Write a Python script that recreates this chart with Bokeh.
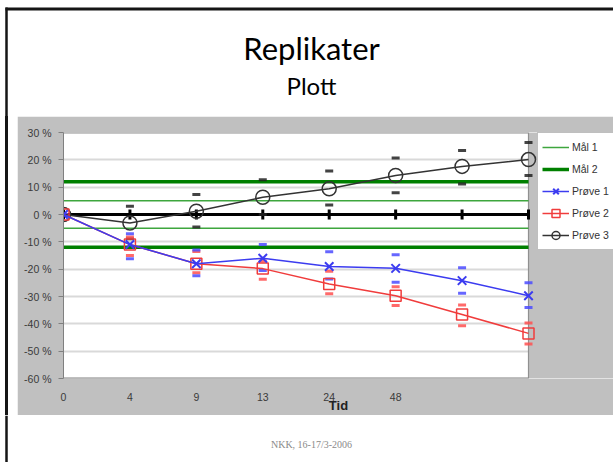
from bokeh.plotting import figure
from bokeh.layouts import column, row
from bokeh.models import Range1d, FixedTicker, Legend, LegendItem, Div
from bokeh.core.properties import value
from bokeh.embed import file_html
from bokeh.resources import INLINE

# ---------------- data ----------------
tid_labels = ["0", "4", "9", "13", "24", "48", "", ""]
y_ticks = [30, 20, 10, 0, -10, -20, -30, -40, -50, -60]

maal1 = [5, -5]
maal2 = [12, -12]
null_line = [0, 0, 0, 0, 0, 0, 0, 0]

prove1 = [0, -11, -18, -16, -19, -19.7, -24.2, -29.7]
prove1_hi = [0, -7, -13, -11, -13.6, -14.7, -19.5, -25]
prove1_lo = [0, -16.2, -22.4, -20.5, -23.6, -24.8, -28.8, -34]

prove2 = [0, -11, -18, -19.8, -25.4, -29.7, -36.6, -43.5]
prove2_hi = [0, -8.2, -13.5, -17, -20.8, -26.4, -33.1, -39.7]
prove2_lo = [0, -15, -21.3, -23.7, -29, -33.3, -40.7, -47.4]

prove3 = [0, -3.1, 1.2, 6.3, 9.4, 14.3, 17.6, 20.1]
prove3_hi = [0, 3, 7.3, 12.7, 15.9, 20.7, 23.4, 26.3]
prove3_lo = [0, -8.9, -4.6, 0, 3.5, 8, 11.2, 14.3]

xs = list(range(len(tid_labels)))
y_top, y_bot = y_ticks[0], y_ticks[-1]

BORDER = "#151515"
FONT = "Liberation Sans"
GRAY = "#c0c0c0"
W = 613

# ---------------- top (slide title) ----------------
top = figure(width=W, height=116, x_range=Range1d(0, W), y_range=Range1d(116, 0),
             output_backend="svg", toolbar_location=None, min_border=0,
             outline_line_color=None, border_fill_color="white")
top.axis.visible = False
top.grid.visible = False
top.line(x=[5, W], y=[8.5, 8.5], line_color=BORDER, line_width=3)
top.line(x=[6, 6], y=[7, 116], line_color=BORDER, line_width=2.5)
top.text(x=[311], y=[47], text=["Replikater"], text_font=value("Lato"),
         text_font_size="31px", text_align="center", text_baseline="middle", text_color="black")
top.text(x=[311], y=[85], text=["Plott"], text_font=value("Lato"),
         text_font_size="24px", text_align="center", text_baseline="middle", text_color="black")

# ---------------- left spacer (slide border) ----------------
spacer = Div(text='<div style="position:absolute;left:5px;top:0px;width:2.5px;height:299px;'
                  'background:%s;"></div>' % BORDER,
             width=17, height=299, margin=0,
             styles={"background-color": "white", "position": "relative", "padding": "0px"})

# ---------------- chart ----------------
CH_W, CH_H = 596, 299
MB_L, MB_T, MB_B = 46, 16, 37
plot_px = 465                       # width of the white plot area in pixels
frame_px = CH_W - MB_L
x_max = xs[-1] * frame_px / plot_px  # frame extends over the grey legend strip

p = figure(width=CH_W, height=CH_H, x_range=Range1d(xs[0], x_max), y_range=Range1d(y_bot, y_top),
           output_backend="svg", toolbar_location=None,
           min_border_left=MB_L, min_border_right=0, min_border_top=MB_T, min_border_bottom=MB_B,
           border_fill_color=GRAY, background_fill_color="white",
           outline_line_color=None)

p.xgrid.visible = False
p.ygrid.grid_line_color = "#d9d9d9"
p.ygrid.grid_line_width = 2
p.ygrid.ticker = FixedTicker(ticks=y_ticks)

p.yaxis.ticker = FixedTicker(ticks=y_ticks)
p.yaxis.major_label_overrides = {v: f"{v} %" for v in y_ticks}
p.yaxis.major_tick_out = 5
p.yaxis.major_tick_in = 0
p.yaxis.minor_tick_line_color = None
p.yaxis.major_tick_line_color = "#808080"
p.yaxis.axis_line_color = "#808080"
p.yaxis.major_label_standoff = 7

p.xaxis.ticker = FixedTicker(ticks=xs)
p.xaxis.major_label_overrides = {i: lab for i, lab in enumerate(tid_labels)}
p.xaxis.major_tick_line_color = None
p.xaxis.minor_tick_line_color = None
p.xaxis.major_tick_out = 0
p.xaxis.major_tick_in = 0
p.xaxis.axis_line_color = None
p.xaxis.major_label_standoff = 14
p.xaxis.axis_label = "Tid"
p.xaxis.axis_label_text_font = FONT
p.xaxis.axis_label_text_font_style = "bold"
p.xaxis.axis_label_text_font_size = "13px"
p.xaxis.axis_label_text_color = "#222222"
p.xaxis.axis_label_standoff = -6

for ax in (p.xaxis, p.yaxis):
    ax.major_label_text_font = FONT
    ax.major_label_text_font_size = "10.5px"
    ax.major_label_text_color = "#3a3a3a"

# grey strip right of the plot area + plot area edges
p.quad(left=[xs[-1]], right=[x_max], bottom=[y_bot], top=[y_top], fill_color=GRAY, line_color=None)
p.line(x=[xs[-1], xs[-1]], y=[y_bot, y_top], line_color="#909090", line_width=1.2)
p.line(x=[xs[0], xs[-1]], y=[y_top, y_top], line_color="#909090", line_width=2)
p.line(x=[xs[0], xs[-1]], y=[y_bot, y_bot], line_color="#808080", line_width=2)

# target lines
m1a = p.line(x=xs, y=[maal1[0]] * len(xs), line_color="#3ea63e", line_width=1.5)
m1b = p.line(x=xs, y=[maal1[1]] * len(xs), line_color="#3ea63e", line_width=1.5)
m2a = p.line(x=xs, y=[maal2[0]] * len(xs), line_color="#008000", line_width=3.5)
m2b = p.line(x=xs, y=[maal2[1]] * len(xs), line_color="#008000", line_width=3.5)

# zero line with vertical ticks
p.line(x=xs, y=null_line, line_color="black", line_width=3)
p.scatter(x=xs, y=null_line, marker="dash", angle=1.5708, size=10, line_color="black", line_width=3)

# replicate dashes
for hi, lo, col in ((prove3_hi, prove3_lo, "#222222"),
                    (prove2_hi, prove2_lo, "#ff5050"),
                    (prove1_hi, prove1_lo, "#4b4bff")):
    p.scatter(x=xs, y=hi, marker="dash", size=8, line_color=col, line_width=3, line_alpha=0.85)
    p.scatter(x=xs, y=lo, marker="dash", size=8, line_color=col, line_width=3, line_alpha=0.85)

# series
l3 = p.line(x=xs, y=prove3, line_color="#333333", line_width=1.5)
s3 = p.scatter(x=xs, y=prove3, marker="circle", size=14, line_color="#333333", line_width=1.5,
               fill_color=None)
l2 = p.line(x=xs, y=prove2, line_color="#f03c3c", line_width=1.5)
s2 = p.scatter(x=xs, y=prove2, marker="square", size=11, line_color="#f03c3c", line_width=1.5,
               fill_color=None)
l1 = p.line(x=xs, y=prove1, line_color="#3c3cf0", line_width=1.5)
s1 = p.scatter(x=xs, y=prove1, marker="x", size=12, line_color="#3c3cf0", line_width=2)

legend = Legend(items=[
    LegendItem(label="Mål 1", renderers=[m1a]),
    LegendItem(label="Mål 2", renderers=[m2a]),
    LegendItem(label="Prøve 1", renderers=[l1, s1]),
    LegendItem(label="Prøve 2", renderers=[l2, s2]),
    LegendItem(label="Prøve 3", renderers=[l3, s3]),
], location=(474, 128))
legend.label_text_font = FONT
legend.label_text_font_size = "10.5px"
legend.label_text_color = "#333333"
legend.label_height = 20
legend.glyph_height = 20
legend.glyph_width = 27
legend.spacing = 2
legend.padding = 4
legend.margin = 0
legend.label_standoff = 3
legend.border_line_color = "#808080"
legend.border_line_width = 1
legend.background_fill_color = "white"
legend.background_fill_alpha = 1
p.add_layout(legend)

# ---------------- bottom (footer) ----------------
bottom = figure(width=W, height=47, x_range=Range1d(0, W), y_range=Range1d(47, 0),
                output_backend="svg", toolbar_location=None, min_border=0,
                outline_line_color=None, border_fill_color="white")
bottom.axis.visible = False
bottom.grid.visible = False
bottom.line(x=[6, 6], y=[0, 47], line_color=BORDER, line_width=2.5)
bottom.text(x=[311], y=[29], text=["NKK, 16-17/3-2006"], text_font=value("Liberation Serif"),
            text_font_size="10px", text_align="center", text_baseline="middle", text_color="#8a8a8a")

layout = column(top, row(spacer, p), bottom)

open("out.html", "w").write(file_html(layout, INLINE))
